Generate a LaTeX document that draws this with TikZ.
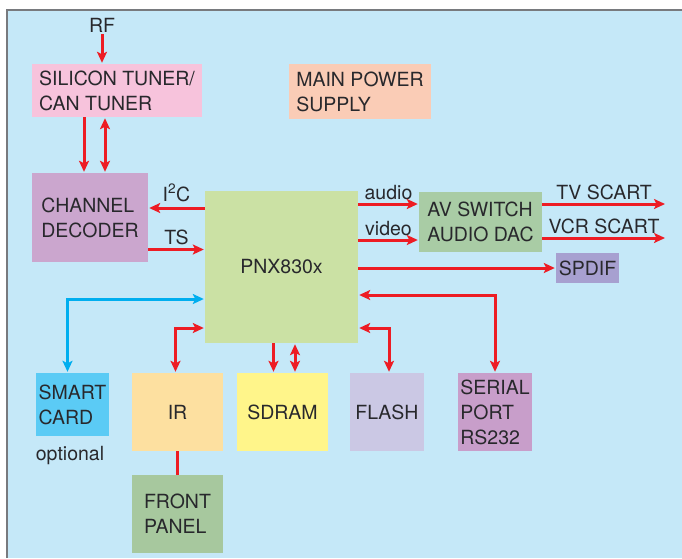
\documentclass[tikz,border=0pt]{standalone}
\usepackage{fontspec}
\setmainfont{TeX Gyre Heros}
\usepackage{tikz}
\usetikzlibrary{arrows.meta,positioning,calc}
\definecolor{bgblue}{RGB}{197,232,248}
\definecolor{frame}{RGB}{120,122,126}
\definecolor{ink}{RGB}{40,40,44}
\definecolor{sigred}{RGB}{237,28,36}
\definecolor{sigblue}{RGB}{0,174,239}
\definecolor{tunerpink}{RGB}{247,195,220}
\definecolor{powersalmon}{RGB}{250,204,182}
\definecolor{decviolet}{RGB}{203,166,206}
\definecolor{pnxgreen}{RGB}{203,225,164}
\definecolor{avgreen}{RGB}{169,204,165}
\definecolor{spdifviolet}{RGB}{167,160,208}
\definecolor{cardblue}{RGB}{91,203,245}
\definecolor{irorange}{RGB}{253,224,160}
\definecolor{sdramyellow}{RGB}{255,245,138}
\definecolor{flashlilac}{RGB}{203,200,228}
\definecolor{serialmauve}{RGB}{200,158,202}
\definecolor{panelgreen}{RGB}{167,200,158}

\begin{document}
\begin{tikzpicture}[x=1pt,y=-1pt,
  >={Stealth[length=11pt,width=10pt,inset=2.5pt]},
  blk/.style={minimum width=#1,inner sep=0pt,align=left,text=ink,
    font=\fontsize{19.5}{25}\selectfont},
  lbl/.style={text=ink,inner sep=2pt,font=\fontsize{19.5}{25}\selectfont},
  arr/.style={->,line width=3pt,sigred,shorten >=1pt},
  darr/.style={<->,line width=3pt,sigred,shorten >=1pt,shorten <=1pt},
  carr/.style={<->,line width=3pt,sigblue,shorten >=1pt,shorten <=1pt},
]
  % background and frame
  \useasboundingbox (0,0) rectangle (682,558);
  \fill[white] (0,0) rectangle (682,558);
  \fill[bgblue] (7,11) rectangle (682,558);
  \draw[frame,line width=2pt] (6.5,558) -- (6.5,10) -- (682,10);

  % blocks
  \node[blk=170pt,minimum height=53pt,fill=tunerpink] (tun) at (117,90.5) {SILICON TUNER/\\CAN TUNER};
  \node[blk=142pt,minimum height=55pt,fill=powersalmon] (pwr) at (360,91.5) {MAIN POWER\\SUPPLY};
  \node[blk=116pt,minimum height=89pt,fill=decviolet] (dec) at (90,217.5) {CHANNEL\\DECODER};
  \node[blk=153pt,minimum height=152pt,fill=pnxgreen] (pnx) at (281.5,267) {PNX830x};
  \node[blk=123pt,minimum height=60pt,fill=avgreen] (av) at (480.5,222) {AV SWITCH\\AUDIO DAC};
  \node[blk=63pt,minimum height=30pt,fill=spdifviolet] (spdif) at (587.5,268) {SPDIF};
  \node[blk=73pt,minimum height=63pt,fill=cardblue] (sc) at (72.5,404.5) {SMART\\CARD};
  \node[blk=91pt,minimum height=78pt,fill=irorange] (ir) at (177.5,412) {IR};
  \node[blk=91pt,minimum height=78pt,fill=sdramyellow] (sdram) at (282.5,412) {SDRAM};
  \node[blk=74pt,minimum height=78pt,fill=flashlilac] (fla) at (387,412) {FLASH};
  \node[blk=74pt,minimum height=78pt,fill=serialmauve] (ser) at (495,412) {SERIAL\\PORT\\RS232};
  \node[blk=91pt,minimum height=78pt,fill=panelgreen] (fp) at (177.5,514) {FRONT\\PANEL};
  \node[lbl] (rf) at (102,25) {RF};
  \node[lbl] (opt) at (70,456) {optional};
  \coordinate (tvout) at (666,204);
  \coordinate (vcrout) at (666,238);

  % tuner / decoder
  \draw[arr] (rf.south) -- (rf.south |- tun.north);
  \draw[arr] ([xshift=-33pt]tun.south) -- ([xshift=-33pt]tun.south |- dec.north);
  \draw[darr] ([xshift=-12pt]tun.south) -- ([xshift=-12pt]tun.south |- dec.north);
  \draw[arr] ([yshift=59pt]pnx.west) -- ([yshift=59pt]pnx.west -| dec.east)
    node[lbl,midway,above=3pt] {I\textsuperscript{2}C};
  \draw[arr] ([yshift=-32pt]dec.east) -- ([yshift=-32pt]dec.east -| pnx.west)
    node[lbl,midway,above=1pt] {TS};

  % outputs
  \draw[arr] ([yshift=63pt]pnx.east) -- ([yshift=63pt]pnx.east -| av.west)
    node[lbl,midway,above=1pt] {audio};
  \draw[arr] ([yshift=27pt]pnx.east) -- ([yshift=27pt]pnx.east -| av.west)
    node[lbl,midway,above=1pt] {video};
  \draw[arr] (av.east |- tvout) -- (tvout) node[lbl,midway,above=1pt] {TV SCART};
  \draw[arr] (av.east |- vcrout) -- (vcrout) node[lbl,midway,above=1pt] {VCR SCART};
  \draw[arr] (pnx.east |- spdif.west) -- (spdif.west);

  % peripherals
  \draw[darr] ([yshift=-28pt]pnx.east) -| (ser.north);
  \draw[darr] ([yshift=-61pt]pnx.east) -| ([xshift=2pt]fla.north);
  \draw[darr] ([yshift=-61pt]pnx.west) -| ([xshift=-2pt]ir.north);
  \draw[carr] ([yshift=-32pt]pnx.west) -| ([xshift=-5pt]sc.north);
  \draw[arr] ([xshift=-8pt]pnx.south) -- ([xshift=-8pt]pnx.south |- sdram.north);
  \draw[darr] ([xshift=13.5pt]pnx.south) -- ([xshift=13.5pt]pnx.south |- sdram.north);
  \draw[line width=3pt,sigred] (ir) -- (fp);
\end{tikzpicture}
\end{document}
